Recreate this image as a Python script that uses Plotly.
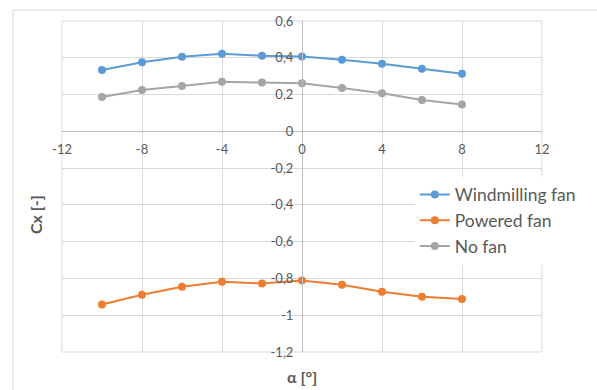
import plotly.graph_objects as go

alpha = [-10, -8, -6, -4, -2, 0, 2, 4, 6, 8]
windmilling = [0.334, 0.376, 0.405, 0.422, 0.411, 0.407, 0.389, 0.367, 0.340, 0.313]
powered = [-0.942, -0.889, -0.845, -0.818, -0.827, -0.811, -0.834, -0.872, -0.899, -0.912]
no_fan = [0.187, 0.225, 0.247, 0.269, 0.265, 0.262, 0.236, 0.207, 0.171, 0.146]

x_tickvals = [-12, -8, -4, 0, 4, 8, 12]
x_ticktext = ["-12", "-8", "-4", "0", "4", "8", "12"]
y_tickvals = [0.6, 0.4, 0.2, 0, -0.2, -0.4, -0.6, -0.8, -1.0, -1.2]
y_ticktext = ["0,6", "0,4", "0,2", "0", "-0,2", "-0,4", "-0,6", "-0,8", "-1", "-1,2"]

FONT = "Lato, 'Open Sans', sans-serif"
GRAY = "#595959"

fig = go.Figure()
for name, vals, col in [("Windmilling fan", windmilling, "#5B9BD5"),
                        ("Powered fan", powered, "#ED7D31"),
                        ("No fan", no_fan, "#A5A5A5")]:
    fig.add_trace(go.Scatter(x=alpha, y=vals, mode="lines+markers", name=name,
                             line=dict(color=col, width=2),
                             marker=dict(color=col, size=8)))

fig.update_layout(
    width=597, height=390,
    margin=dict(l=62, r=55, t=21, b=38),
    paper_bgcolor="white", plot_bgcolor="white",
    font=dict(family=FONT, color=GRAY),
    showlegend=True,
    legend=dict(x=0.735, y=0.53, xanchor="left", yanchor="top",
                bgcolor="white", font=dict(size=17.5, color=GRAY),
                tracegroupgap=0, itemwidth=30),
    xaxis=dict(range=[-12, 12], tickvals=x_tickvals, ticktext=x_ticktext,
               showgrid=True, gridcolor="#d9d9d9", gridwidth=1,
               zeroline=False, showline=True, linecolor="#bfbfbf", linewidth=1,
               anchor="free", position=2/3, ticks="", ticklabelstandoff=6,
               tickfont=dict(size=13, color=GRAY), domain=[0, 1]),
    yaxis=dict(range=[-1.2, 0.6], tickvals=y_tickvals, ticktext=y_ticktext,
               showgrid=True, gridcolor="#d9d9d9", gridwidth=1,
               zeroline=False, showline=True, linecolor="#bfbfbf", linewidth=1,
               anchor="free", position=0.5, ticks="", ticklabelstandoff=6,
               tickfont=dict(size=13, color=GRAY), domain=[0, 1]),
    shapes=[
        dict(type="rect", xref="paper", yref="paper", x0=0, x1=1, y0=0, y1=1,
             line=dict(color="#d9d9d9", width=1), layer="below"),
        dict(type="rect", xref="paper", yref="paper", x0=-0.102, x1=1.3, y0=-0.2, y1=1.033,
             line=dict(color="#d9d9d9", width=1)),
    ],
    annotations=[
        dict(text="<b>Cx [-]</b>", xref="paper", yref="paper", x=(35 - 62) / 480, y=(352 - 215) / 331,
             xanchor="center", yanchor="middle",
             textangle=-90, showarrow=False, font=dict(size=16, color=GRAY, family=FONT)),
        dict(text="<b>α [°]</b>", xref="paper", yref="paper", x=(302 - 62) / 480, y=(352 - 376) / 331,
             xanchor="center", yanchor="middle",
             showarrow=False, font=dict(size=16, color=GRAY, family=FONT)),
    ],
)

fig.write_html("out.html")
